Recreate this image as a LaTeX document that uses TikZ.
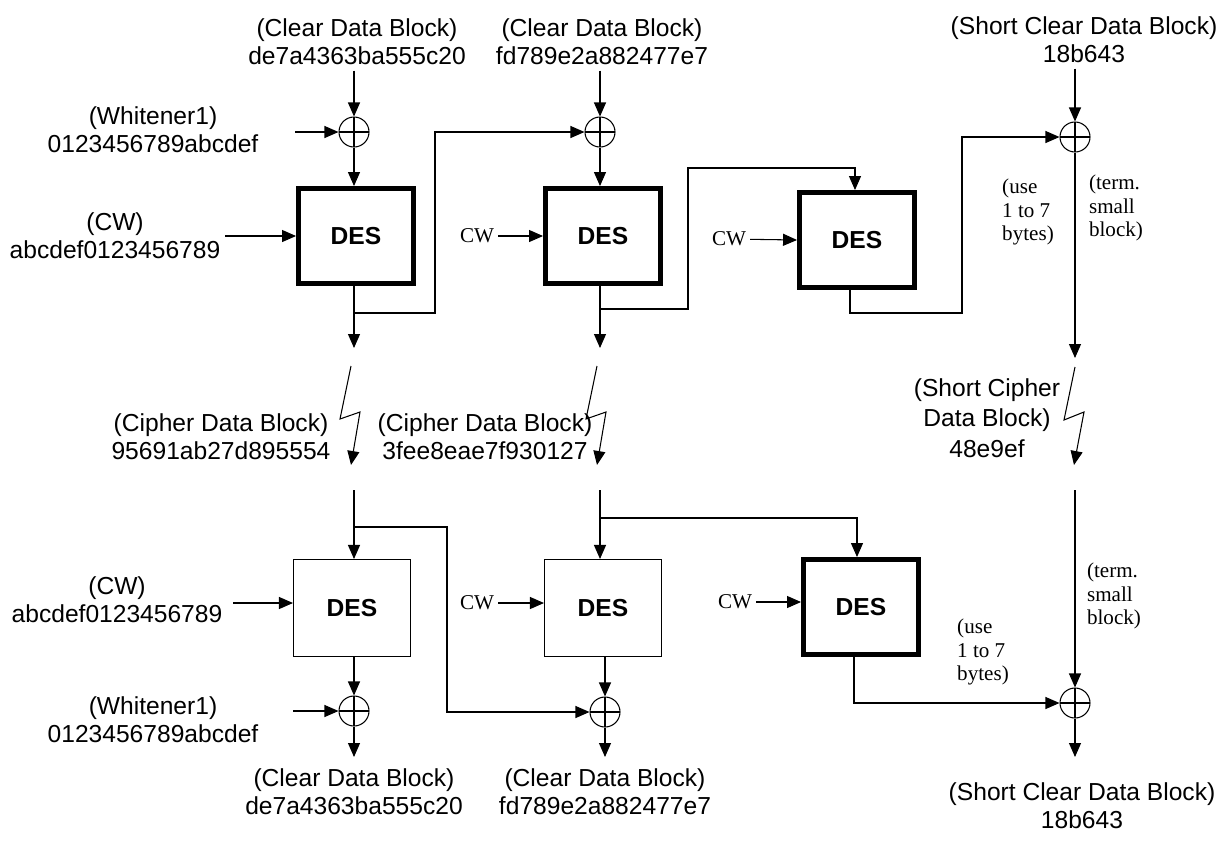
\documentclass[tikz,border=0pt]{standalone}
\usepackage{fontspec}
\setmainfont{Liberation Sans}
\newfontfamily\tms{Liberation Serif}
\usetikzlibrary{arrows.meta}
\begin{document}
\begin{tikzpicture}[x=0.02cm,y=-0.02cm,line width=0.6pt,
  lbl/.style={align=center,inner sep=0pt,font=\fontsize{14}{16}\selectfont},
  note/.style={align=left,inner sep=0pt,font=\tms\fontsize{12}{13.2}\selectfont},
  cwtxt/.style={inner sep=2pt,font=\tms\fontsize{12}{14}\selectfont},
  des/.style={draw,minimum width=2.34cm,minimum height=1.94cm,font=\fontsize{14}{17}\selectfont\bfseries},
  desthick/.style={des,line width=2.8pt,minimum width=2.3cm,minimum height=1.9cm},
  xor/.style={draw,circle,minimum size=0.6cm,inner sep=0pt,
    path picture={\draw (path picture bounding box.north) -- (path picture bounding box.south)
      (path picture bounding box.west) -- (path picture bounding box.east);}},
  arr/.style={-{Triangle[length=0.28cm,width=0.24cm]}}]
\useasboundingbox (0,0) rectangle (1231,840);
% top row
\node[lbl] (cin1) at (357,42) {(Clear Data Block)\\de7a4363ba555c20};
\node[lbl] (cin2) at (602,42) {(Clear Data Block)\\fd789e2a882477e7};
\node[lbl] (cin3) at (1084,40) {(Short Clear Data Block)\\18b643};
\node[lbl] (wh1) at (153,130) {(Whitener1)\\0123456789abcdef};
\node[lbl] (cw1) at (115,236) {(CW)\\abcdef0123456789};
\node[xor] (x1) at (354,132) {};
\node[xor] (x2) at (600,132) {};
\node[xor] (x3) at (1075,137) {};
\node[desthick] (d1) at (356,236) {DES};
\node[desthick] (d2) at (603,236) {DES};
\node[desthick] (d3) at (857,240) {DES};
\node[cwtxt] (cw2) at (477,236) {CW};
\node[cwtxt] (cw3) at (729,239) {CW};
\node[note] (use3) at (1028,212) {(use\\1 to 7\\bytes)};
\node[note] (term3) at (1116,208) {(term.\\small\\block)};
\coordinate (w1) at (295,132);
\coordinate (ca1) at (225,236);
\coordinate (f1) at (354,313);
\coordinate (k1) at (435,313);
\coordinate (t1) at (354,348);
\coordinate (f2) at (600,309);
\coordinate (k2) at (688,309);
\coordinate (k3) at (855,168);
\coordinate (t2) at (600,348);
\coordinate (k4) at (962,313);
\coordinate (t4) at (1075,358);
\path[draw,arr] (cin1.south -| x1) ++(0,5) -- (x1);
\path[draw,arr] (cin2.south -| x2) ++(0,5) -- (x2);
\path[draw,arr] (cin3.south -| x3) ++(0,5) -- (x3);
\path[draw,arr] (w1) -- (x1);
\path[draw,arr] (x1) -- (x1 |- d1.north);
\path[draw,arr] (x2) -- (x2 |- d2.north);
\path[draw,arr] (ca1) -- (d1.west);
\path[draw,arr] (cw2) -- (d2.west);
\path[draw,arr] (cw3) -- (d3.west);
\path[draw,arr] (x1 |- d1.south) -- (t1);
\path[draw,arr] (f1) -- (k1) |- (x2);
\path[draw,arr] (x2 |- d2.south) -- (t2);
\path[draw,arr] (f2) -- (k2) |- (k3) -- (k3 |- d3.north);
\path[draw,arr] ([xshift=-4pt]d3.south) |- (k4) |- (x3);
\path[draw,arr] (x3) -- (t4);
% broken links
\coordinate (z1a) at (351,366); \coordinate (z1b) at (340,419);
\coordinate (z1c) at (360,412); \coordinate (z1d) at (351,465);
\coordinate (z2a) at (597,366); \coordinate (z2b) at (586,419);
\coordinate (z2c) at (606,412); \coordinate (z2d) at (597,465);
\coordinate (z4a) at (1075,367); \coordinate (z4b) at (1064,420);
\coordinate (z4c) at (1084,412); \coordinate (z4d) at (1074,465);
\path[draw,arr] (z1a) -- (z1b) -- (z1c) -- (z1d);
\path[draw,arr] (z2a) -- (z2b) -- (z2c) -- (z2d);
\path[draw,arr] (z4a) -- (z4b) -- (z4c) -- (z4d);
\node[lbl] (ci1) at (221,437) {(Cipher Data Block)\\95691ab27d895554};
\node[lbl] (ci2) at (485,437) {(Cipher Data Block)\\3fee8eae7f930127};
\node[lbl,font=\fontsize{14}{17.5}\selectfont] (ci3) at (987,418) {(Short Cipher\\Data Block)\\48e9ef};
% bottom row
\node[des] (d4) at (352,608) {DES};
\node[des] (d5) at (603,608) {DES};
\node[desthick] (d6) at (861,607) {DES};
\node[xor] (x4) at (354,711) {};
\node[xor] (x5) at (605,712) {};
\node[xor] (x6) at (1075,703) {};
\node[lbl] (cw4) at (117,600) {(CW)\\abcdef0123456789};
\node[lbl] (wh4) at (153,720) {(Whitener1)\\0123456789abcdef};
\node[cwtxt] (cw5) at (477,603) {CW};
\node[cwtxt] (cw6) at (735,602) {CW};
\node[note] (use6) at (983,652) {(use\\1 to 7\\bytes)};
\node[note] (term6) at (1114,596) {(term.\\small\\block)};
\node[lbl] (cout1) at (354,792) {(Clear Data Block)\\de7a4363ba555c20};
\node[lbl] (cout2) at (605,792) {(Clear Data Block)\\fd789e2a882477e7};
\node[lbl] (cout3) at (1082,806) {(Short Clear Data Block)\\18b643};
\coordinate (r1) at (354,490);
\coordinate (r2) at (600,490);
\coordinate (r4) at (1075,490);
\coordinate (b1) at (354,527);
\coordinate (k5) at (447,527);
\coordinate (b2) at (600,518);
\coordinate (k6) at (857,518);
\coordinate (ca4) at (233,603);
\coordinate (w4) at (293,711);
\coordinate (t5) at (354,757);
\coordinate (t6) at (605,757);
\coordinate (t7) at (1075,757);
\path[draw,arr] (r1) -- (r1 |- d4.north);
\path[draw,arr] (b1) -- (k5) |- (x5);
\path[draw,arr] (r2) -- (r2 |- d5.north);
\path[draw,arr] (b2) -- (k6) -- (k6 |- d6.north);
\path[draw,arr] (ca4) -- (ca4 -| d4.west);
\path[draw,arr] (cw5) -- (cw5 -| d5.west);
\path[draw,arr] (cw6) -- (cw6 -| d6.west);
\path[draw,arr] (x4 |- d4.south) -- (x4);
\path[draw,arr] (x5 |- d5.south) -- (x5);
\path[draw,arr] (w4) -- (x4);
\path[draw,arr] (x4) -- (t5);
\path[draw,arr] (x5) -- (t6);
\path[draw,arr] ([xshift=-4pt]d6.south) |- (x6);
\path[draw,arr] (r4) -- (x6);
\path[draw,arr] (x6) -- (t7);
\end{tikzpicture}
\end{document}
